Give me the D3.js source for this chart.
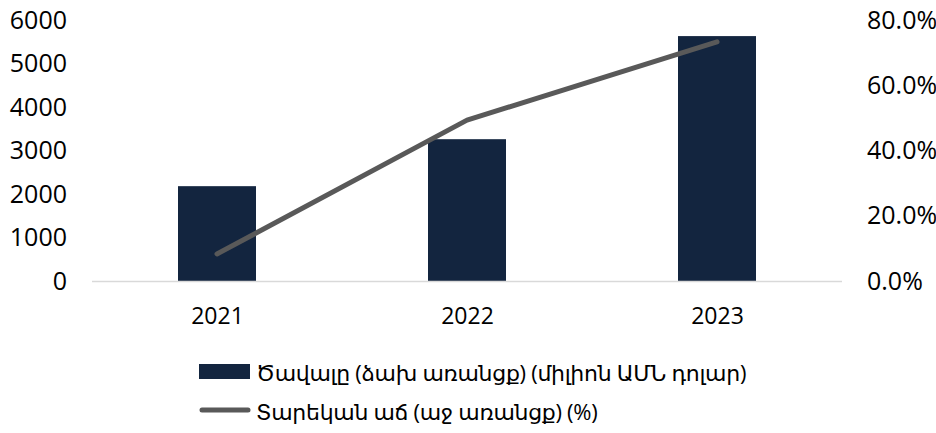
<!DOCTYPE html>
<html><head><meta charset="utf-8">
<script src="https://cdn.jsdelivr.net/npm/d3@7"></script>
<style>body{margin:0;background:#fff}svg{display:block}</style>
</head><body>
<svg id="c" width="936" height="433"></svg>
<script>
const categories = ["2021", "2022", "2023"];
const volume = [2180, 3260, 5630];
const growth = [0.083, 0.493, 0.733];
const leftTicks = [0, 1000, 2000, 3000, 4000, 5000, 6000];
const rightTicks = [0, 0.2, 0.4, 0.6, 0.8];
const legendLabels = ["Ծավալը (ձախ առանցք) (միլիոն ԱՄՆ դոլար)", "Տարեկան աճ (աջ առանցք) (%)"];

const svg = d3.select("#c");
const font = "'Open Sans', 'DejaVu Sans', sans-serif";
const x0 = 92, x1 = 842, yTop = 20, yBase = 281;

const x = d3.scalePoint().domain(categories).range([x0, x1]).padding(0.5);
const bw = x.step() * 0.312;
const yL = d3.scaleLinear().domain([0, 6000]).range([yBase, yTop]);
const yR = d3.scaleLinear().domain([0, 0.8]).range([yBase, yTop]);

// bars
svg.selectAll("rect.bar").data(categories).enter().append("rect")
  .attr("class", "bar")
  .attr("x", d => x(d) - bw / 2)
  .attr("width", bw)
  .attr("y", (d, i) => yL(volume[i]))
  .attr("height", (d, i) => yBase - yL(volume[i]))
  .attr("fill", "#13253f");

// baseline
svg.append("line").attr("x1", x0).attr("x2", x1).attr("y1", yBase + 0.5).attr("y2", yBase + 0.5)
  .attr("stroke", "#d9d9d9").attr("stroke-width", 1.5);

// line
const line = d3.line().x((d, i) => x(categories[i])).y(d => yR(d));
svg.append("path").datum(growth).attr("d", line)
  .attr("fill", "none").attr("stroke", "#595959").attr("stroke-width", 5)
  .attr("stroke-linecap", "round").attr("stroke-linejoin", "round");

// left axis
const gl = svg.append("g").attr("transform", "translate(67,0)")
  .call(d3.axisLeft(yL).tickValues(leftTicks).tickSize(0).tickPadding(0).tickFormat(d3.format("d")));
gl.select(".domain").remove();
gl.selectAll("text").attr("font-family", font).attr("font-size", 25).attr("fill", "#000");

// right axis
const gr = svg.append("g").attr("transform", "translate(867,0)")
  .call(d3.axisRight(yR).tickValues(rightTicks).tickSize(0).tickPadding(0).tickFormat(d3.format(".1%")));
gr.select(".domain").remove();
gr.selectAll("text").attr("font-family", font).attr("font-size", 25).attr("fill", "#000");

// x axis
const gx = svg.append("g").attr("transform", `translate(0,${yBase})`)
  .call(d3.axisBottom(x).tickSize(0).tickPadding(27));
gx.select(".domain").remove();
gx.selectAll("text").attr("font-family", font).attr("font-size", 23).attr("fill", "#000");

// legend
const lg = svg.append("g");
lg.append("rect").attr("x", 199).attr("y", 364).attr("width", 51).attr("height", 15).attr("fill", "#13253f");
lg.append("line").attr("x1", 202).attr("x2", 248).attr("y1", 410).attr("y2", 410)
  .attr("stroke", "#595959").attr("stroke-width", 5).attr("stroke-linecap", "round");
lg.selectAll("text").data(legendLabels).enter().append("text")
  .attr("x", 256).attr("y", (d, i) => 373 + i * 39).attr("dy", "0.35em")
  .attr("font-family", font).attr("font-size", 22).attr("letter-spacing", -0.3)
  .attr("fill", "#000").text(d => d);
</script>
</body></html>
